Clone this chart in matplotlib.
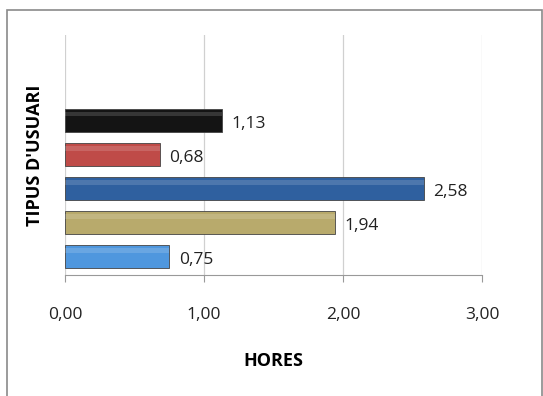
import numpy as np
import matplotlib
matplotlib.use("Agg")
import matplotlib.pyplot as plt
from matplotlib.patches import Rectangle
from matplotlib.ticker import FuncFormatter

# data, bottom to top
valors = [0.75, 1.94, 2.58, 0.68, 1.13]
colors = ["#4f97de", "#b8aa6c", "#2f609f", "#bf4b48", "#141414"]
x_ticks = [0, 1, 2, 3]

plt.rcParams['font.family'] = ['Open Sans', 'DejaVu Sans']

fig = plt.figure(figsize=(5.43, 3.96), dpi=100)
ax = fig.add_axes([0.1197, 0.3056, 0.768, 0.606])

pos = np.arange(len(valors))
ax.barh(pos, valors, height=0.68, color=colors, edgecolor="#444444",
        linewidth=0.6, zorder=3)

# light strip near the top of each bar (bevel look)
for p, v in zip(pos, valors):
    ax.barh(p + 0.18, v, height=0.14, color="white", alpha=0.15,
            linewidth=0, zorder=4)

for p, v in zip(pos, valors):
    ax.text(v + 0.07, p - 0.1, f"{v:.2f}".replace('.', ','),
            va="center", ha="left", fontsize=12.5, color="#222222")

ax.set_xlim(0, 3)
ax.set_ylim(-0.54, 6.5)
ax.set_xticks(x_ticks)
ax.xaxis.set_major_formatter(FuncFormatter(lambda v, p: f"{v:.2f}".replace('.', ',')))
ax.set_yticks([])
ax.tick_params(axis="x", length=5, color="#999999", labelsize=12.5,
               labelcolor="#222222", pad=18)
ax.grid(axis="x", color="#d0d0d0", linewidth=0.9, zorder=0)
for s in ["top", "right", "left"]:
    ax.spines[s].set_visible(False)
ax.spines["bottom"].set_color("#999999")

ax.set_xlabel("HORES", fontsize=13, fontweight="bold", labelpad=21)
ax.set_ylabel("TIPUS D'USUARI", fontsize=13, fontweight="bold")
ax.yaxis.set_label_coords(-0.05, 0.5)

# outer chart border
fig.patches.append(Rectangle((7 / 543, -0.01), 535 / 543, 0.985,
                             transform=fig.transFigure, fill=False,
                             edgecolor="#8a8a8a", linewidth=1.2))

fig.savefig("out.png", dpi=100)
